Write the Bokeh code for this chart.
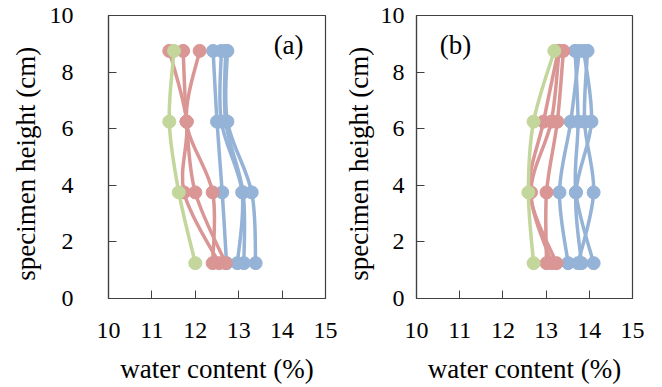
from bokeh.plotting import figure
from bokeh.layouts import row
from bokeh.models import Range1d, Label, FixedTicker
from bokeh.embed import file_html
from bokeh.resources import INLINE

# specimen heights (cm), bottom to top
heights = [1.25, 3.75, 6.25, 8.75]

# panel (a) water contents (%)
a_blue = [
    [12.72, 12.62, 12.50, 12.41],
    [12.97, 13.08, 12.60, 12.60],
    [13.12, 13.10, 12.70, 12.70],
    [13.39, 13.30, 12.74, 12.74],
]
a_red = [
    [12.55, 11.74, 11.80, 11.40],
    [12.70, 12.00, 11.80, 11.72],
    [12.40, 12.40, 11.80, 12.10],
]
a_green = [[12.00, 11.62, 11.40, 11.51]]

# panel (b) water contents (%)
b_blue = [
    [13.51, 13.31, 13.57, 13.77],
    [14.10, 13.69, 13.74, 13.67],
    [13.74, 14.10, 13.89, 13.96],
    [13.82, 13.69, 14.05, 13.87],
]
b_red = [
    [13.24, 12.62, 12.94, 13.28],
    [13.13, 12.65, 13.12, 13.30],
    [13.01, 13.01, 13.26, 13.40],
]
b_green = [[12.71, 12.59, 12.71, 13.19]]

x_ticks = [10, 11, 12, 13, 14, 15]
y_ticks = [0, 2, 4, 6, 8, 10]

BLUE = "#95B3D7"
RED = "#D99694"
GREEN = "#C3D69B"
FONT = "Liberation Serif"


def smooth_segments(xs, ys):
    # Bezier control points (Excel-like smoothing) derived from the data points
    n = len(xs)
    segs = []
    for i in range(n - 1):
        i0 = max(i - 1, 0)
        i3 = min(i + 2, n - 1)
        cx0 = xs[i] + (xs[i + 1] - xs[i0]) / 6.0
        cy0 = ys[i] + (ys[i + 1] - ys[i0]) / 6.0
        cx1 = xs[i + 1] - (xs[i3] - xs[i]) / 6.0
        cy1 = ys[i + 1] - (ys[i3] - ys[i]) / 6.0
        segs.append((xs[i], ys[i], xs[i + 1], ys[i + 1], cx0, cy0, cx1, cy1))
    return segs


def add_series(p, series_list, color):
    for xs in series_list:
        segs = smooth_segments(xs, heights)
        p.bezier(x0=[s[0] for s in segs], y0=[s[1] for s in segs],
                 x1=[s[2] for s in segs], y1=[s[3] for s in segs],
                 cx0=[s[4] for s in segs], cy0=[s[5] for s in segs],
                 cx1=[s[6] for s in segs], cy1=[s[7] for s in segs],
                 line_color=color, line_width=3.5)
        p.scatter(xs, heights, size=13, fill_color=color, line_color=color)


def make_panel(width, border_left, border_right, ytick_standoff, ylabel_standoff,
               blue, red, green, tag, tag_x):
    p = figure(width=width, height=387, output_backend="svg", toolbar_location=None,
               x_range=Range1d(10, 15), y_range=Range1d(0, 10),
               min_border_left=border_left, min_border_right=border_right,
               min_border_top=15, min_border_bottom=89)
    p.grid.visible = False
    p.background_fill_color = "white"
    p.border_fill_color = "white"
    p.outline_line_color = "#404040"
    p.outline_line_width = 1.2
    for ax in (p.xaxis[0], p.yaxis[0]):
        ax.major_tick_in = 8
        ax.major_tick_out = 0
        ax.minor_tick_in = 0
        ax.minor_tick_out = 0
        ax.axis_line_color = "#404040"
        ax.axis_line_width = 1.2
        ax.major_tick_line_color = "#404040"
        ax.major_label_text_font = FONT
        ax.major_label_text_font_size = "24px"
        ax.major_label_text_color = "black"
        ax.axis_label_text_font = FONT
        ax.axis_label_text_font_size = "27px"
        ax.axis_label_text_font_style = "normal"
        ax.axis_label_text_color = "black"
    p.xaxis[0].ticker = FixedTicker(ticks=x_ticks)
    p.yaxis[0].ticker = FixedTicker(ticks=y_ticks)
    p.xaxis[0].major_label_standoff = 24
    p.yaxis[0].major_label_standoff = ytick_standoff
    p.xaxis[0].axis_label = "water content (%)"
    p.yaxis[0].axis_label = "specimen  height  (cm)"
    p.xaxis[0].axis_label_standoff = 13
    p.yaxis[0].axis_label_standoff = ylabel_standoff

    add_series(p, blue, BLUE)
    add_series(p, red, RED)
    add_series(p, green, GREEN)

    p.add_layout(Label(x=tag_x, y=8.94, text=tag, text_font=FONT, text_font_size="27px",
                       text_align="center", text_baseline="middle", text_color="black"))
    return p


pa = make_panel(338, 108, 13, 35, 6, a_blue, a_red, a_green, "(a)", 14.15)
pb = make_panel(324, 78, 30, 12, 4, b_blue, b_red, b_green, "(b)", 10.9)

layout = row(pa, pb)
open("out.html", "w").write(file_html(layout, INLINE))
